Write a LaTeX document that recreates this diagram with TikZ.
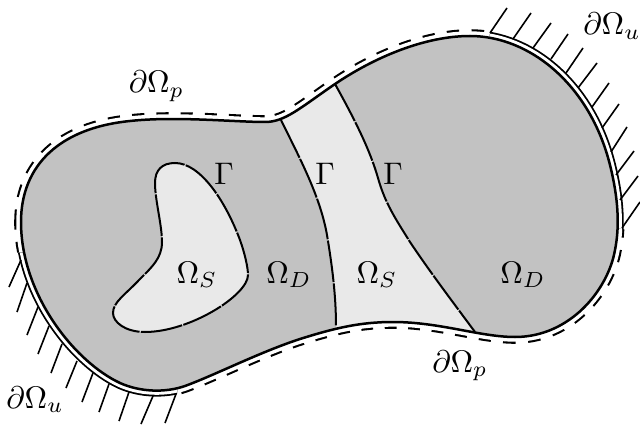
\documentclass[tikz,border=0pt]{standalone}
\definecolor{darkreg}{HTML}{C2C2C2}
\definecolor{lightreg}{HTML}{E9E9E9}
\def\outerc{(21,222) .. controls (21,165) and (60,128) .. (130,121) .. controls (175,116) and (235,122) .. (265,122) .. controls (285,122) and (300,108) .. (335,84) .. controls (375,57) and (425,36) .. (470,36) .. controls (530,36) and (590,85) .. (610,165) .. controls (618,197) and (620,225) .. (615,250) .. controls (608,290) and (570,337) .. (515,337) .. controls (480,337) and (440,322) .. (393,322) .. controls (360,322) and (335,328) .. (300,339) .. controls (260,352) and (215,375) .. (185,386) .. controls (165,393) and (140,392) .. (120,383) .. controls (75,362) and (21,295) .. (21,222) -- cycle}
\def\innerc{(155,183) .. controls (155,170) and (162,163) .. (175,163) .. controls (200,163) and (225,200) .. (240,240) .. controls (245,254) and (248,268) .. (248,275) .. controls (248,295) and (190,332) .. (145,332) .. controls (125,332) and (113,322) .. (113,313) .. controls (113,302) and (125,295) .. (140,279) .. controls (152,267) and (162,258) .. (162,242) .. controls (162,225) and (155,200) .. (155,183) -- cycle}
\tikzset{
  gammaline/.style={line width=2pt,dash pattern=on 42pt off 1.3pt},
  hatchline/.style={line width=1.6pt},
  lab/.style={scale=3.12,anchor=base,inner sep=0pt}
}
\begin{document}
\begin{tikzpicture}[x=1pt,y=-1pt]
\useasboundingbox (0,0) rectangle (640,425);
% dashed offset boundary
\begin{scope}
\clip (0,253)--(0,0)--(498,0)--(450,200)--(640,232)--(640,425)--(172,425)--(200,250)--cycle;
\draw[line width=13.6pt,dash pattern=on 12pt off 12pt] \outerc;
\draw[line width=9.4pt,white] \outerc;
\end{scope}
% double offset boundary
\begin{scope}
\clip (450,200)--(498,0)--(640,0)--(640,232)--cycle;
\draw[line width=12pt] \outerc;
\draw[line width=8.4pt,white] \outerc;
\end{scope}
\begin{scope}
\clip (200,250)--(0,253)--(0,425)--(172,425)--cycle;
\draw[line width=12pt] \outerc;
\draw[line width=8.4pt,white] \outerc;
\end{scope}
% hatches
\foreach \ax/\ay/\bx/\by in {
 490/33/507/8, 513/39/531/13, 533/48/551/23, 551/59/568/34, 566/73/583/48, 578/88/597/63, 592/107/609/83, 602/128/619/104, 611/152/627/127, 616/175/634/151, 620/200/638/176, 622/228/640/202,
 21/260/9/287, 27/283/17/312, 38/307/27/335, 49/326/38/354, 62/344/51/373, 77/361/66/388, 93/373/82/402, 109/384/99/412, 129/392/119/421, 153/396/141/424, 176/394/165/423}
  \draw[hatchline] (\ax,\ay) -- (\bx,\by);
% domain
\fill[darkreg] \outerc;
\begin{scope}
\clip \outerc;
\fill[lightreg] (281,120) .. controls (298,155) and (320,195) .. (327,235) .. controls (332,265) and (336,295) .. (336,326) -- (336,345) -- (485,345) -- (475,332) .. controls (455,305) and (430,272) .. (410,242) .. controls (395,218) and (385,203) .. (378,178) .. controls (370,150) and (355,120) .. (335,84) -- (325,60) -- (270,100) -- cycle;
\end{scope}
\fill[lightreg] \innerc;
\draw[gammaline] \innerc;
\draw[gammaline] (281,120) .. controls (298,155) and (320,195) .. (327,235) .. controls (332,265) and (336,295) .. (336,326);
\draw[gammaline] (335,84) .. controls (355,120) and (370,150) .. (378,178) .. controls (385,203) and (395,218) .. (410,242) .. controls (430,272) and (455,305) .. (475,332);
\draw[line width=2.5pt] \outerc;
% labels
\node[lab] (pt) at (156.5,93) {$\partial\Omega_p$};
\node[lab] (pb) at (460,372) {$\partial\Omega_p$};
\node[lab] (ut) at (612,35) {$\partial\Omega_u$};
\node[lab] (ub) at (35,408) {$\partial\Omega_u$};
\node[lab] (g1) at (224,184) {$\Gamma$};
\node[lab] (g2) at (325,184) {$\Gamma$};
\node[lab] (g3) at (393,184) {$\Gamma$};
\node[lab] (s1) at (197,283) {$\Omega_S$};
\node[lab] (d1) at (289,283) {$\Omega_D$};
\node[lab] (s2) at (377,283) {$\Omega_S$};
\node[lab] (d2) at (523,283) {$\Omega_D$};
\end{tikzpicture}
\end{document}
